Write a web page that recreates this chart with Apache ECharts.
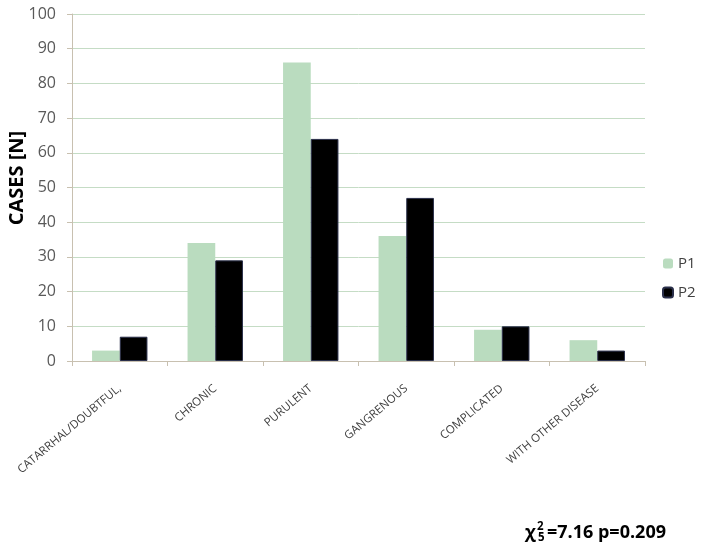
<!DOCTYPE html>
<html>
<head>
<meta charset="utf-8">
<script src="https://cdn.jsdelivr.net/npm/echarts@6/dist/echarts.min.js"></script>
<style>
  html, body { margin: 0; padding: 0; background: #fff; }
  #chart { width: 704px; height: 549px; }
</style>
</head>
<body>
<div id="chart"></div>
<script>
var categories = ['CATARRHAL/DOUBTFUL,', 'CHRONIC', 'PURULENT', 'GANGRENOUS', 'COMPLICATED', 'WITH OTHER DISEASE'];
var p1 = [3, 34, 86, 36, 9, 6];
var p2 = [7, 29, 64, 47, 10, 3];

var myChart = echarts.init(document.getElementById('chart'));
var boldFont = { fontWeight: 'bold', fill: '#000', fontFamily: 'Open Sans' };
var option = {
  animation: false,
  textStyle: { fontFamily: 'Open Sans' },
  grid: { left: 72, right: 59, top: 14, bottom: 188, outerBoundsMode: 'none', containLabel: false },
  legend: {
    orient: 'vertical',
    left: 657,
    top: 251,
    itemWidth: 10,
    itemHeight: 10,
    itemGap: 14,
    textStyle: { fontSize: 15, color: '#404040' },
    data: ['P1', 'P2']
  },
  xAxis: {
    type: 'category',
    data: categories,
    axisLine: { lineStyle: { color: '#c8c0b0' } },
    axisTick: { show: true, length: 5, lineStyle: { color: '#c8c0b0' } },
    axisLabel: { rotate: 40, fontSize: 11.5, color: '#404040', margin: 26, interval: 0 }
  },
  yAxis: {
    type: 'value',
    min: 0,
    max: 100,
    interval: 10,
    axisLine: { show: true, lineStyle: { color: '#c8c0b0' } },
    axisTick: { show: true, length: 5, inside: false, lineStyle: { color: '#c8c0b0' } },
    axisLabel: { fontSize: 16, color: '#595959', margin: 16 },
    splitLine: { lineStyle: { color: '#c5dcc5' } }
  },
  series: [
    {
      name: 'P1',
      type: 'bar',
      data: p1,
      barGap: '0%',
      barCategoryGap: '42%',
      itemStyle: { color: '#badcbf' }
    },
    {
      name: 'P2',
      type: 'bar',
      data: p2,
      itemStyle: { color: '#000000', borderColor: '#2a2f4a', borderWidth: 1 }
    }
  ],
  graphic: [
    {
      type: 'text',
      x: 17,
      y: 178,
      rotation: Math.PI / 2,
      style: Object.assign({ text: 'CASES [N]', fontSize: 20, align: 'center', verticalAlign: 'middle' }, boldFont)
    },
    {
      type: 'group',
      x: 525,
      y: 542,
      children: [
        { type: 'text', x: 0, y: 0, style: Object.assign({ text: 'χ', fontSize: 18, verticalAlign: 'bottom' }, boldFont) },
        { type: 'text', x: 12, y: -9, style: Object.assign({ text: '2', fontSize: 11.5, verticalAlign: 'bottom' }, boldFont) },
        { type: 'text', x: 13, y: 2, style: Object.assign({ text: '5', fontSize: 11.5, verticalAlign: 'bottom' }, boldFont) },
        { type: 'text', x: 22, y: 0, style: Object.assign({ text: '=7.16 p=0.209', fontSize: 18, verticalAlign: 'bottom' }, boldFont) }
      ]
    }
  ]
};
myChart.setOption(option);
window.addEventListener('resize', function () {
  myChart.resize();
});
</script>
</body>
</html>
